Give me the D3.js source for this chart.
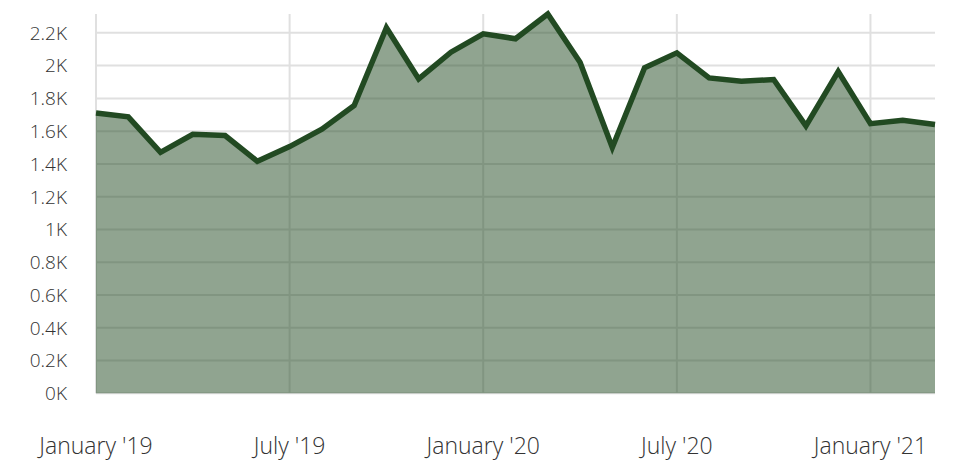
<!DOCTYPE html>
<html>
<head>
<meta charset="utf-8">
<script src="https://cdn.jsdelivr.net/npm/d3@7"></script>
<style>
  html, body { margin: 0; padding: 0; background: #fff; }
  svg { display: block; }
  text { font-family: "Open Sans", "Noto Sans", sans-serif; font-weight: 300; fill: #333; }
</style>
</head>
<body>
<svg id="chart" width="959" height="466"></svg>
<script>
// Months (categories)
const months = [
  "2019-01","2019-02","2019-03","2019-04","2019-05","2019-06","2019-07","2019-08","2019-09",
  "2019-10","2019-11","2019-12","2020-01","2020-02","2020-03","2020-04","2020-05","2020-06",
  "2020-07","2020-08","2020-09","2020-10","2020-11","2020-12","2021-01","2021-02","2021-03"
];
// Series values
const values = [
  1711, 1687, 1471, 1581, 1573, 1416, 1506, 1612, 1756,
  2231, 1919, 2082, 2194, 2164, 2315, 2021, 1500, 1987,
  2078, 1925, 1905, 1915, 1632, 1964, 1646, 1667, 1640
];
// X tick labels (every 6 months)
const xTickMonths = ["2019-01","2019-07","2020-01","2020-07","2021-01"];
const xTickLabels = ["January '19","July '19","January '20","July '20","January '21"];
// Y ticks
const yTicks = [0,200,400,600,800,1000,1200,1400,1600,1800,2000,2200];

const svg = d3.select("#chart");
const mLeft = 96, mRight = 935, mTop = 14, mBottom = 393.3;

const x = d3.scalePoint().domain(months).range([mLeft, mRight]);
const y = d3.scaleLinear().domain([0, d3.max(values)]).range([mBottom, mTop]);

const data = months.map((m, i) => ({ m, v: values[i] }));

// gridlines (drawn beneath the semi-transparent area)
const grid = svg.append("g");
grid.selectAll("line.h").data(yTicks).join("line")
  .attr("class", "h")
  .attr("x1", mLeft).attr("x2", mRight)
  .attr("y1", d => y(d)).attr("y2", d => y(d))
  .attr("stroke", "#e0e0e0").attr("stroke-width", 2);
grid.selectAll("line.v").data(xTickMonths).join("line")
  .attr("class", "v")
  .attr("x1", d => x(d)).attr("x2", d => x(d))
  .attr("y1", mTop).attr("y2", mBottom)
  .attr("stroke", "#e0e0e0").attr("stroke-width", 2);

// area
const area = d3.area().x(d => x(d.m)).y0(y(0)).y1(d => y(d.v));
svg.append("path").datum(data)
  .attr("d", area)
  .attr("fill", "#224a22").attr("fill-opacity", 0.5);

// line
const line = d3.line().x(d => x(d.m)).y(d => y(d.v));
svg.append("path").datum(data)
  .attr("d", line)
  .attr("fill", "none")
  .attr("stroke", "#224a22")
  .attr("stroke-width", 5.5)
  .attr("stroke-linejoin", "miter");

// y labels
svg.append("g").selectAll("text").data(yTicks).join("text")
  .attr("x", 67).attr("y", d => y(d)).attr("dy", "0.36em")
  .attr("text-anchor", "end")
  .style("font-size", "19px")
  .text(d => (d / 1000) + "K");

// x labels
svg.append("g").selectAll("text").data(xTickMonths).join("text")
  .attr("x", d => x(d)).attr("y", 454)
  .attr("text-anchor", "middle")
  .style("font-size", "23px")
  .text((d, i) => xTickLabels[i]);
</script>
</body>
</html>
